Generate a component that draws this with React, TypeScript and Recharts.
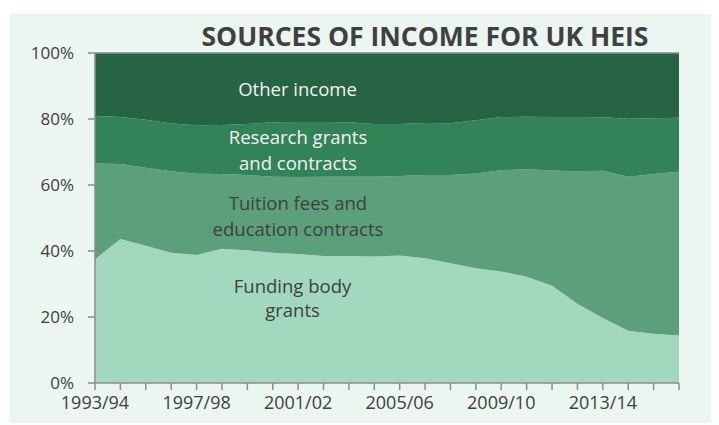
import React from "react";
import { AreaChart, Area, XAxis, YAxis, ReferenceLine } from "recharts";

const years = [
  "1993/94", "1994/95", "1995/96", "1996/97", "1997/98", "1998/99",
  "1999/00", "2000/01", "2001/02", "2002/03", "2003/04", "2004/05",
  "2005/06", "2006/07", "2007/08", "2008/09", "2009/10", "2010/11",
  "2011/12", "2012/13", "2013/14", "2014/15", "2015/16", "2016/17",
];

// shares of total income, %
const funding = [
  37.5, 43.6, 41.6, 39.5, 38.8, 40.7, 40.2, 39.5, 39.1, 38.5, 38.5, 38.3,
  38.6, 37.8, 36.3, 34.8, 33.8, 32.2, 29.5, 24.0, 19.7, 15.8, 14.9, 14.4,
];
const tuition = [
  29.0, 22.8, 23.6, 24.7, 24.6, 22.6, 22.8, 23.0, 23.3, 24.0, 24.0, 24.2,
  24.1, 25.2, 26.7, 28.7, 30.7, 32.6, 34.9, 40.2, 44.6, 46.7, 48.4, 49.6,
];
const research = [
  14.4, 14.2, 14.6, 14.4, 14.7, 14.9, 15.5, 16.5, 16.7, 16.6, 16.5, 16.0,
  15.8, 15.8, 15.7, 16.1, 16.1, 15.9, 16.2, 16.4, 16.2, 17.6, 16.9, 16.4,
];
const other = [
  19.1, 19.4, 20.2, 21.4, 21.9, 21.8, 21.5, 21.0, 20.9, 20.9, 21.0, 21.5,
  21.5, 21.2, 21.3, 20.4, 19.4, 19.3, 19.4, 19.4, 19.5, 19.9, 19.8, 19.6,
];
const yTicks = [0, 20, 40, 60, 80, 100];

const data = years.map((year, i) => ({
  year,
  funding: funding[i],
  tuition: tuition[i],
  research: research[i],
  other: other[i],
}));

const FONT = "'Open Sans', sans-serif";
const TEXT = "#404040";
const AXIS = "#8c8c8c";

export default function App() {
  return (
    <div style={{ position: "relative", width: 711, height: 417, fontFamily: FONT }}>
      <div
        style={{
          position: "absolute",
          left: 2,
          top: 6,
          width: 709,
          height: 409,
          background: "#ebf6f0",
        }}
      >
        <AreaChart
          width={709}
          height={409}
          data={data}
          margin={{ top: 39, right: 40, left: 0, bottom: 0 }}
        >
          <XAxis
            dataKey="year"
            interval={0}
            height={40}
            tickFormatter={(v: string, i: number) => (i % 4 === 0 ? v : "")}
            tick={{ fill: TEXT, fontSize: 18, fontFamily: FONT }}
            tickSize={7}
            tickMargin={6}
            stroke={AXIS}
            strokeWidth={1.5}
          />
          <YAxis
            width={85}
            domain={[0, 100]}
            ticks={yTicks}
            tickFormatter={(v: number) => `${v}%`}
            tick={{ fill: TEXT, fontSize: 17, fontFamily: FONT }}
            tickSize={7}
            tickMargin={14}
            stroke={AXIS}
            strokeWidth={1.5}
          />
          <Area type="linear" dataKey="funding" stackId="1" stroke="none" fill="#a2d9be" fillOpacity={1} isAnimationActive={false} />
          <Area type="linear" dataKey="tuition" stackId="1" stroke="none" fill="#5ba07a" fillOpacity={1} isAnimationActive={false} />
          <Area type="linear" dataKey="research" stackId="1" stroke="none" fill="#338358" fillOpacity={1} isAnimationActive={false} />
          <Area type="linear" dataKey="other" stackId="1" stroke="none" fill="#276443" fillOpacity={1} isAnimationActive={false} />
          <ReferenceLine y={100} stroke={AXIS} strokeWidth={1.5} />
        </AreaChart>
        <svg
          width={709}
          height={409}
          style={{ position: "absolute", left: 0, top: 0, pointerEvents: "none" }}
        >
          <g fontFamily={FONT} textAnchor="middle">
            <text x={415} y={32} fontSize={26.5} fontWeight={700} fill={TEXT}>
              SOURCES OF INCOME FOR UK HEIS
            </text>
            <text x={287.5} y={81.7} fontSize={18.5} fill="#f2f2f2">Other income</text>
            <text x={288} y={130} fontSize={18.5} fill="#f2f2f2">Research grants</text>
            <text x={288} y={156} fontSize={18.5} fill="#f2f2f2">and contracts</text>
            <text x={288} y={196} fontSize={18.5} fill={TEXT}>Tuition fees and</text>
            <text x={288} y={222} fontSize={18.5} fill={TEXT}>education contracts</text>
            <text x={282.5} y={279.3} fontSize={18.5} fill={TEXT}>Funding body</text>
            <text x={282.5} y={302.7} fontSize={18.5} fill={TEXT}>grants</text>
          </g>
        </svg>
      </div>
    </div>
  );
}
